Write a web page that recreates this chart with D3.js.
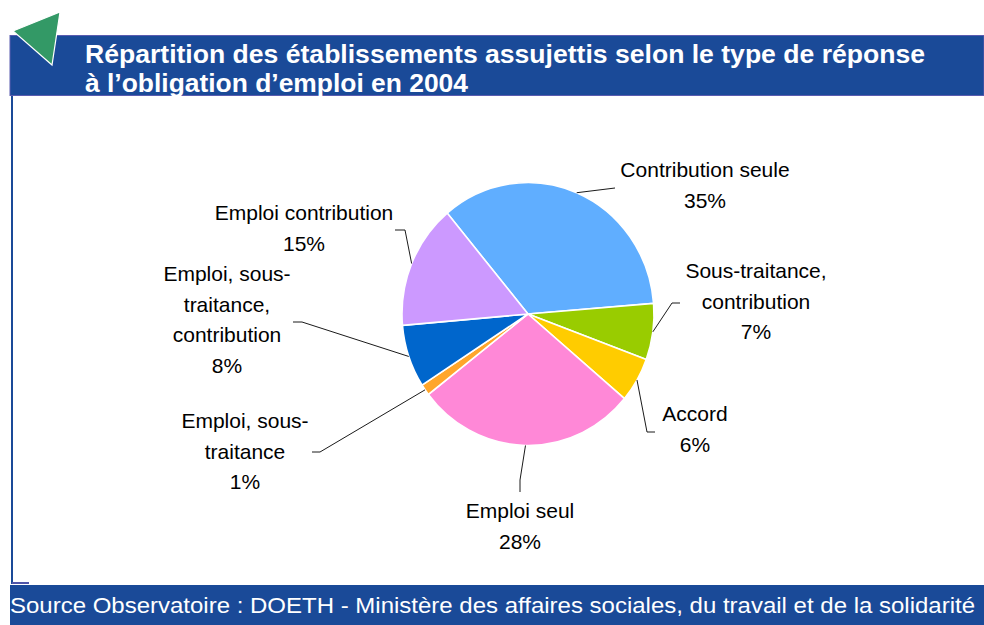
<!DOCTYPE html>
<html>
<head>
<meta charset="utf-8">
<script src="https://cdn.jsdelivr.net/npm/d3@7/dist/d3.min.js"></script>
<style>
  body { margin: 0; background: #fff; }
  svg text { font-family: "Liberation Sans", Arial, sans-serif; }
</style>
</head>
<body>
<div id="chart"></div>
<script>
// data (shares in %, clockwise from upper left)
var categories = ["Contribution seule", "Sous-traitance, contribution", "Accord", "Emploi seul",
  "Emploi, sous-traitance", "Emploi, sous-traitance, contribution", "Emploi contribution"];
var shares = [34.8, 6.9, 5.5, 28.4, 1.4, 7.7, 15.3];
var sliceColors = ["#60aeff", "#99cc00", "#ffcc00", "#ff88d7", "#ffa62b", "#0066cc", "#cc99ff"];
var labelLines = [
  ["Contribution seule"],
  ["Sous-traitance,", "contribution"],
  ["Accord"],
  ["Emploi seul"],
  ["Emploi, sous-", "traitance"],
  ["Emploi, sous-", "traitance,", "contribution"],
  ["Emploi contribution"]
];
var title = ["Répartition des établissements assujettis selon le type de réponse",
  "à l\u2019obligation d\u2019emploi en 2004"];
var titleWidths = [840, 383];
var source = "Source Observatoire : DOETH - Ministère des affaires sociales, du travail et de la solidarité";

// label placement (layout only)
var labelPos = [
  {x: 705, y: 177, elbow: [615, 188], tail: 615},
  {x: 756, y: 278, elbow: [672, 303], tail: 680},
  {x: 695, y: 421, elbow: [647, 432], tail: 655},
  {x: 520, y: 518, elbow: [520, 480], tail: 520, down: 492},
  {x: 245, y: 428, elbow: [320, 452], tail: 312},
  {x: 227, y: 281, elbow: [302, 322], tail: 293},
  {x: 304, y: 220, elbow: [405, 230], tail: 395}
];

var width = 984,
  height = 625;

var svg = d3.select("#chart")
  .append("svg")
  .attr("width", width)
  .attr("height", height);

var blue = "#1a4a98";

// frame: title bar, left rule, footer
svg.append("rect")
  .attr("x", 10).attr("y", 35.5)
  .attr("width", 974).attr("height", 60)
  .attr("fill", blue)
  .attr("stroke", "#5a5cb0")
  .attr("stroke-width", 1);

svg.append("rect")
  .attr("x", 11).attr("y", 96)
  .attr("width", 2).attr("height", 488)
  .attr("fill", blue);

svg.append("rect")
  .attr("x", 12).attr("y", 582)
  .attr("width", 17).attr("height", 2)
  .attr("fill", "#4f55a8");

svg.append("rect")
  .attr("x", 10).attr("y", 585)
  .attr("width", 974).attr("height", 40)
  .attr("fill", blue);

svg.append("path")
  .attr("d", "M13,31 L60,12 L52,65 Z")
  .attr("fill", "#339966")
  .attr("stroke", "#fff")
  .attr("stroke-width", 1.2);

svg.selectAll(".title")
  .data(title)
  .enter().append("text")
  .attr("class", "title")
  .attr("x", 85)
  .attr("y", function(d, i) { return 63 + i * 28.5; })
  .attr("fill", "#fff")
  .attr("font-size", "25px")
  .attr("font-weight", "bold")
  .attr("textLength", function(d, i) { return titleWidths[i]; })
  .attr("lengthAdjust", "spacingAndGlyphs")
  .text(function(d) { return d; });

svg.append("text")
  .attr("x", 10)
  .attr("y", 613)
  .attr("fill", "#fff")
  .attr("font-size", "22px")
  .attr("textLength", 965)
  .attr("lengthAdjust", "spacingAndGlyphs")
  .text(source);

// pie
var cx = 528, cy = 314, radius = 126, ky = 131.5 / 126;
var startAngle = -39.9 * Math.PI / 180;

var pie = d3.pie()
  .sort(null)
  .startAngle(startAngle)
  .endAngle(startAngle + 2 * Math.PI)
  .value(function(d) { return d; });

var arc = d3.arc()
  .innerRadius(0)
  .outerRadius(radius);

var arcs = pie(shares);

var g = svg.append("g")
  .attr("transform", "translate(" + cx + "," + cy + ") scale(1," + ky + ")");

g.selectAll("path")
  .data(arcs)
  .enter().append("path")
  .attr("d", arc)
  .attr("fill", function(d, i) { return sliceColors[i]; })
  .attr("stroke", "#fff")
  .attr("stroke-width", 1.6)
  .attr("vector-effect", "non-scaling-stroke");

// leader lines
var pctFormat = function(v) { return Math.round(v) + "%"; };

svg.selectAll(".leader")
  .data(arcs)
  .enter().append("polyline")
  .attr("class", "leader")
  .attr("fill", "none")
  .attr("stroke", "#000")
  .attr("stroke-width", 0.9)
  .attr("points", function(d, i) {
    var a = (d.startAngle + d.endAngle) / 2;
    var p0 = [cx + Math.sin(a) * radius, cy - Math.cos(a) * radius * ky];
    var lp = labelPos[i];
    var end = lp.down ? [lp.tail, lp.down] : [lp.tail, lp.elbow[1]];
    return [p0, lp.elbow, end].map(function(p) { return p.join(","); }).join(" ");
  });

// labels
var labels = svg.selectAll(".label")
  .data(arcs)
  .enter().append("text")
  .attr("class", "label")
  .attr("text-anchor", "middle")
  .attr("font-size", "21px")
  .attr("fill", "#000");

labels.each(function(d, i) {
  var lines = labelLines[i].concat([pctFormat(d.data)]);
  var lp = labelPos[i];
  d3.select(this).selectAll("tspan")
    .data(lines)
    .enter().append("tspan")
    .attr("x", lp.x)
    .attr("y", function(t, j) { return lp.y + j * 30.5; })
    .text(function(t) { return t; });
});
</script>
</body>
</html>
